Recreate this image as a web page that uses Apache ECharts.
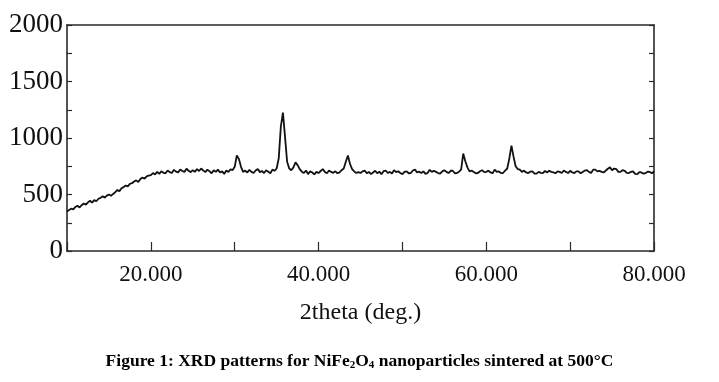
<!DOCTYPE html>
<html>
<head>
<meta charset="utf-8">
<script src="https://cdn.jsdelivr.net/npm/echarts@6/dist/echarts.min.js"></script>
<style>
html,body{margin:0;padding:0;background:#fff;}
#chart{width:719px;height:382px;}
</style>
</head>
<body>
<div id="chart"></div>
<script>
// 2theta positions (deg.), 0.25 deg scan step
var twoTheta = [
10,10.25,10.5,10.75,11,11.25,11.5,11.75,12,12.25,12.5,12.75,13,13.25,13.5,13.75,14,14.25,14.5,14.75,
15,15.25,15.5,15.75,16,16.25,16.5,16.75,17,17.25,17.5,17.75,18,18.25,18.5,18.75,19,19.25,19.5,19.75,
20,20.25,20.5,20.75,21,21.25,21.5,21.75,22,22.25,22.5,22.75,23,23.25,23.5,23.75,24,24.25,24.5,24.75,
25,25.25,25.5,25.75,26,26.25,26.5,26.75,27,27.25,27.5,27.75,28,28.25,28.5,28.75,29,29.25,29.5,29.75,
30,30.25,30.5,30.75,31,31.25,31.5,31.75,32,32.25,32.5,32.75,33,33.25,33.5,33.75,34,34.25,34.5,34.75,
35,35.25,35.5,35.75,36,36.25,36.5,36.75,37,37.25,37.5,37.75,38,38.25,38.5,38.75,39,39.25,39.5,39.75,
40,40.25,40.5,40.75,41,41.25,41.5,41.75,42,42.25,42.5,42.75,43,43.25,43.5,43.75,44,44.25,44.5,44.75,
45,45.25,45.5,45.75,46,46.25,46.5,46.75,47,47.25,47.5,47.75,48,48.25,48.5,48.75,49,49.25,49.5,49.75,
50,50.25,50.5,50.75,51,51.25,51.5,51.75,52,52.25,52.5,52.75,53,53.25,53.5,53.75,54,54.25,54.5,54.75,
55,55.25,55.5,55.75,56,56.25,56.5,56.75,57,57.25,57.5,57.75,58,58.25,58.5,58.75,59,59.25,59.5,59.75,
60,60.25,60.5,60.75,61,61.25,61.5,61.75,62,62.25,62.5,62.75,63,63.25,63.5,63.75,64,64.25,64.5,64.75,
65,65.25,65.5,65.75,66,66.25,66.5,66.75,67,67.25,67.5,67.75,68,68.25,68.5,68.75,69,69.25,69.5,69.75,
70,70.25,70.5,70.75,71,71.25,71.5,71.75,72,72.25,72.5,72.75,73,73.25,73.5,73.75,74,74.25,74.5,74.75,
75,75.25,75.5,75.75,76,76.25,76.5,76.75,77,77.25,77.5,77.75,78,78.25,78.5,78.75,79,79.25,79.5,79.75,
80
];
// intensity (counts)
var intensity = [
350,362,375,368,390,400,385,405,420,410,430,445,428,450,440,462,470,485,472,490,
500,488,505,520,540,530,555,565,580,572,595,600,615,625,610,638,650,640,660,668,
672,690,678,700,682,705,692,688,712,698,690,718,702,695,722,708,700,728,710,698,
715,700,725,708,730,712,698,720,705,688,714,700,720,695,705,682,712,700,722,716,
745,845,815,745,700,712,695,718,700,690,712,725,698,708,690,715,702,688,720,710,
730,820,1100,1225,1010,790,730,715,740,785,760,725,702,690,712,680,705,695,678,700,
690,708,725,700,688,712,700,692,705,688,696,715,730,790,845,770,725,705,690,698,
690,705,712,688,700,680,695,710,688,702,680,706,712,690,700,685,715,698,706,690,
680,700,705,688,690,712,720,695,702,690,705,682,690,718,700,710,700,690,685,705,
715,700,690,710,710,688,690,702,720,862,795,740,705,712,700,688,690,706,715,698,
700,712,695,688,720,700,705,690,690,712,730,820,932,835,750,725,720,700,712,695,
690,702,705,685,685,700,692,690,708,695,710,700,695,688,705,700,690,712,700,690,
710,695,690,705,705,688,700,712,715,700,690,720,720,705,710,700,695,712,728,740,
715,730,725,700,700,715,710,692,690,700,705,682,680,698,695,685,690,702,700,688,
705
];
var yTicks = [0, 500, 1000, 1500, 2000];
var xLabelValues = [20, 40, 60, 80];
var xTitle = '2theta (deg.)';

var pts = twoTheta.map(function (t, i) { return [t, intensity[i]]; });
var serif = '"Liberation Serif", "Times New Roman", serif';
var ink = '#111';
var axisColor = '#2a2a2a';

var chart = echarts.init(document.getElementById('chart'), null, {renderer: 'canvas'});
chart.setOption({
  animation: false,
  backgroundColor: '#fff',
  grid: {left: 67, right: 65, top: 25, bottom: 131},
  xAxis: [{
    type: 'value', min: 10, max: 80, interval: 10, position: 'bottom',
    name: xTitle, nameLocation: 'middle', nameGap: 50,
    nameTextStyle: {fontFamily: serif, fontSize: 24, color: ink},
    axisLine: {show: true, lineStyle: {color: axisColor, width: 1.6}},
    axisTick: {show: true, inside: true, length: 9, lineStyle: {color: axisColor, width: 1.2}},
    axisLabel: {
      margin: 12, fontFamily: serif, fontSize: 23, color: ink,
      formatter: function (v) { return xLabelValues.indexOf(v) >= 0 ? v.toFixed(3) : ''; }
    },
    splitLine: {show: false}
  }, {
    type: 'value', min: 10, max: 80, interval: 10, position: 'top',
    axisLine: {show: true, onZero: false, lineStyle: {color: axisColor, width: 1.6}},
    axisTick: {show: false}, axisLabel: {show: false}, splitLine: {show: false}
  }],
  yAxis: [{
    type: 'value', min: 0, max: 2000, interval: 500, position: 'left',
    axisLine: {show: true, lineStyle: {color: axisColor, width: 1.6}},
    axisTick: {show: true, inside: true, length: 5, lineStyle: {color: axisColor, width: 1.2}},
    minorTick: {show: true, splitNumber: 2, length: 5, lineStyle: {color: axisColor, width: 1.2}},
    axisLabel: {
      margin: 4, fontFamily: serif, fontSize: 27, color: ink,
      formatter: function (v) { return yTicks.indexOf(v) >= 0 ? String(v) : ''; }
    },
    splitLine: {show: false}
  }, {
    type: 'value', min: 0, max: 2000, interval: 500, position: 'right',
    axisLine: {show: true, onZero: false, lineStyle: {color: axisColor, width: 1.6}},
    axisTick: {show: true, inside: true, length: 5, lineStyle: {color: axisColor, width: 1.2}},
    minorTick: {show: true, splitNumber: 2, length: 5, lineStyle: {color: axisColor, width: 1.2}},
    axisLabel: {show: false}, splitLine: {show: false}
  }],
  series: [{
    type: 'line', xAxisIndex: 0, yAxisIndex: 0, data: pts,
    showSymbol: false, symbol: 'none', smooth: false,
    lineStyle: {color: '#111', width: 1.8}
  }],
  graphic: [{
    type: 'text', left: 'center', top: 352,
    style: {
      text: '{b|Figure 1: XRD patterns for NiFe}{s|2}{b|O}{s|4}{b| nanoparticles sintered at 500°C}',
      rich: {
        b: {fontFamily: serif, fontWeight: 'bold', fontSize: 17.5, lineHeight: 20, verticalAlign: 'middle', fill: '#000'},
        s: {fontFamily: serif, fontWeight: 'bold', fontSize: 11, lineHeight: 12, verticalAlign: 'bottom', fill: '#000'}
      }
    }
  }]
});
</script>
</body>
</html>
